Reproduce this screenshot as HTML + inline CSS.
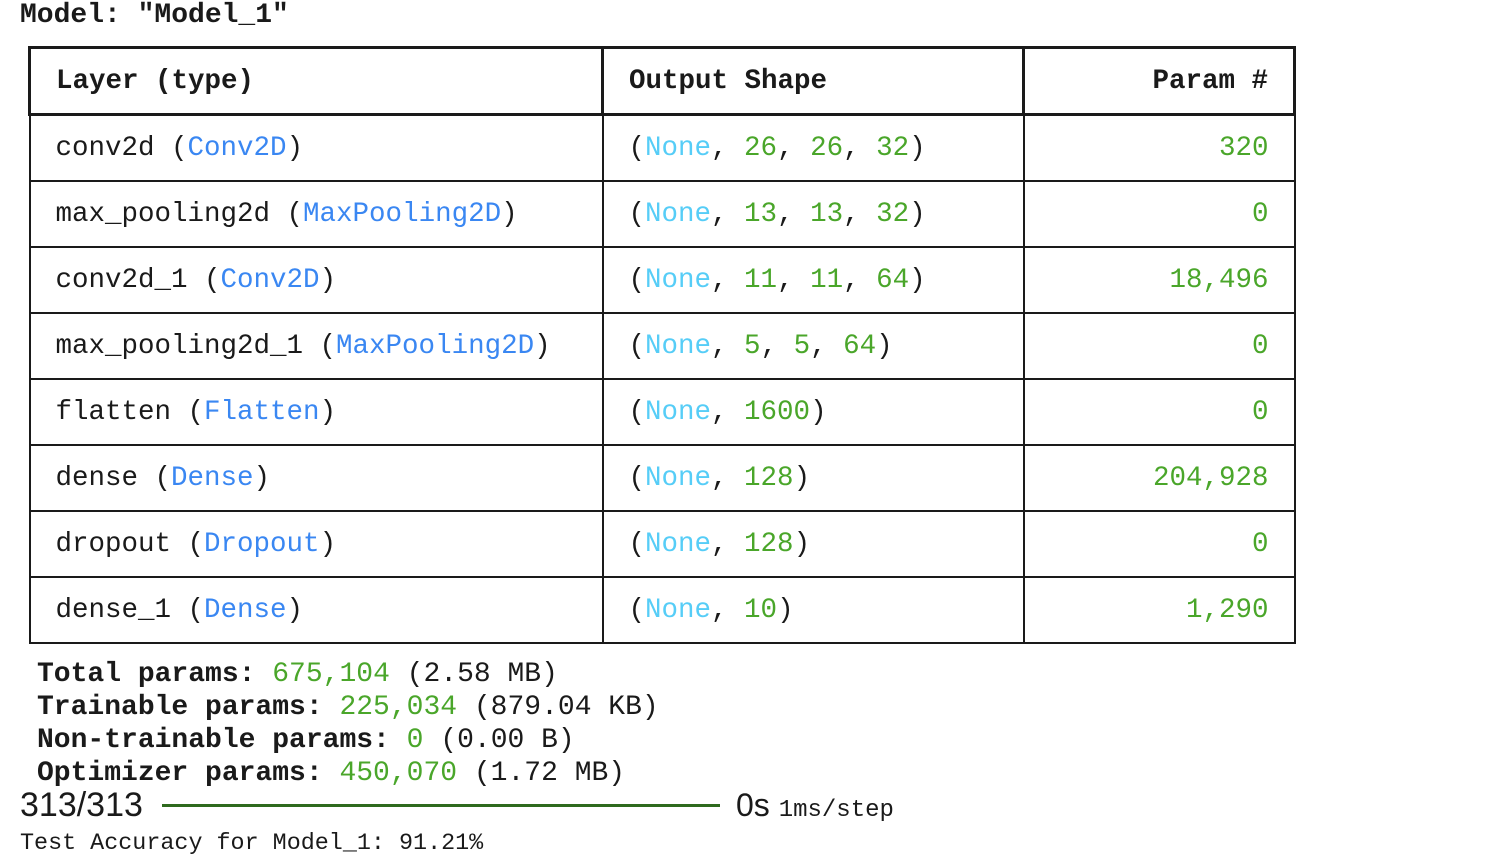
<!DOCTYPE html>
<html><head><meta charset="utf-8"><style>
body{margin:0;width:1486px;height:868px;background:#fff;position:relative;overflow:hidden;font-family:"Liberation Mono",monospace;color:#1a1a1a}
.abs{position:absolute;white-space:pre}
table{position:absolute;left:28px;top:46px;border-collapse:collapse;font-size:27.5px}
td,th{border:2px solid #1a1a1a;height:64px;padding:0 25px;white-space:pre;font-weight:normal;text-align:left}
th{border:3.5px solid #1a1a1a;font-weight:bold;height:64px}
.b{color:#3a87f2}.c{color:#56cdf7}.g{color:#4aa62a}
.r{text-align:right}
</style></head><body>
<div class="abs" style="left:20px;top:0px;font-size:28px;font-weight:bold">Model: "Model_1"</div>
<table>
<colgroup><col style="width:573px"><col style="width:421px"><col style="width:271px"></colgroup>
<tr><th>Layer (type)</th><th>Output Shape</th><th class="r">Param #</th></tr>
<tr><td>conv2d (<span class="b">Conv2D</span>)</td><td>(<span class="c">None</span>, <span class="g">26</span>, <span class="g">26</span>, <span class="g">32</span>)</td><td class="r g">320</td></tr>
<tr><td>max_pooling2d (<span class="b">MaxPooling2D</span>)</td><td>(<span class="c">None</span>, <span class="g">13</span>, <span class="g">13</span>, <span class="g">32</span>)</td><td class="r g">0</td></tr>
<tr><td>conv2d_1 (<span class="b">Conv2D</span>)</td><td>(<span class="c">None</span>, <span class="g">11</span>, <span class="g">11</span>, <span class="g">64</span>)</td><td class="r g">18,496</td></tr>
<tr><td>max_pooling2d_1 (<span class="b">MaxPooling2D</span>)</td><td>(<span class="c">None</span>, <span class="g">5</span>, <span class="g">5</span>, <span class="g">64</span>)</td><td class="r g">0</td></tr>
<tr><td>flatten (<span class="b">Flatten</span>)</td><td>(<span class="c">None</span>, <span class="g">1600</span>)</td><td class="r g">0</td></tr>
<tr><td>dense (<span class="b">Dense</span>)</td><td>(<span class="c">None</span>, <span class="g">128</span>)</td><td class="r g">204,928</td></tr>
<tr><td>dropout (<span class="b">Dropout</span>)</td><td>(<span class="c">None</span>, <span class="g">128</span>)</td><td class="r g">0</td></tr>
<tr><td>dense_1 (<span class="b">Dense</span>)</td><td>(<span class="c">None</span>, <span class="g">10</span>)</td><td class="r g">1,290</td></tr>
</table>
<div class="abs" style="left:37px;top:659px;font-size:28px"><b>Total params: </b><span class="g">675,104</span> (2.58 MB)</div>
<div class="abs" style="left:37px;top:692px;font-size:28px"><b>Trainable params: </b><span class="g">225,034</span> (879.04 KB)</div>
<div class="abs" style="left:37px;top:725px;font-size:28px"><b>Non-trainable params: </b><span class="g">0</span> (0.00 B)</div>
<div class="abs" style="left:37px;top:758px;font-size:28px"><b>Optimizer params: </b><span class="g">450,070</span> (1.72 MB)</div>
<div class="abs" style="left:20px;top:786px;font-size:34px;font-family:'Liberation Sans',sans-serif">313/313</div>
<div class="abs" style="left:162px;top:804px;width:558px;height:3px;background:#2f6a1e"></div>
<div class="abs" style="left:736px;top:787px;font-size:32px;font-family:'Liberation Sans',sans-serif">0s <span style="font-family:'Liberation Mono',monospace;font-size:24px">1ms/step</span></div>
<div class="abs" style="left:20px;top:831px;font-size:23.4px">Test Accuracy for Model_1: 91.21%</div>
</body></html>
